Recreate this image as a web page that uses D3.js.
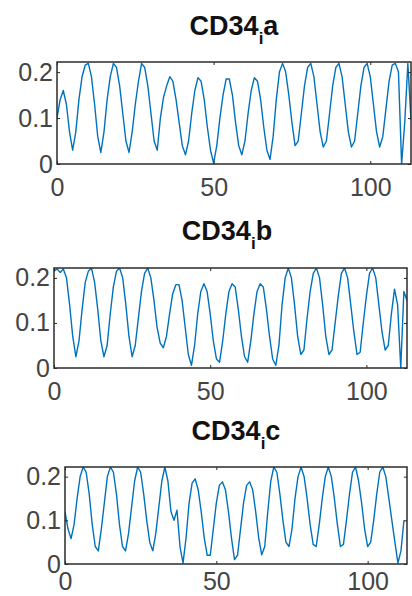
<!DOCTYPE html>
<html>
<head>
<meta charset="utf-8">
<script src="https://cdn.jsdelivr.net/npm/d3@7/dist/d3.min.js"></script>
<style>
  body { margin: 0; background: #fff; }
  svg { display: block; }
  .tick text { font-family: "Liberation Sans", Arial, sans-serif; font-size: 25px; fill: #444; }
  .title { font-family: "Liberation Sans", Arial, sans-serif; font-weight: bold; fill: #111; }
</style>
</head>
<body>
<div id="chart"></div>
<script>
// panel names (CD34 subscript i + letter)
var panelNames = ["a", "b", "c"];

// one sample per x unit
var seriesA = [0.10,0.14,0.16,0.13,0.07,0.03,0.07,0.14,0.19,0.215,
  0.219,0.19,0.13,0.06,0.025,0.07,0.14,0.19,0.219,0.21,
  0.17,0.11,0.05,0.025,0.07,0.13,0.18,0.219,0.21,0.17,
  0.11,0.05,0.03,0.10,0.145,0.17,0.19,0.18,0.14,0.09,
  0.04,0.02,0.05,0.11,0.16,0.188,0.18,0.14,0.08,0.03,
  0.002,0.04,0.10,0.15,0.185,0.185,0.15,0.09,0.04,0.02,
  0.05,0.11,0.16,0.188,0.18,0.14,0.08,0.03,0.01,0.06,
  0.14,0.20,0.219,0.20,0.15,0.09,0.04,0.05,0.11,0.17,
  0.21,0.219,0.19,0.13,0.07,0.037,0.05,0.11,0.17,0.21,
  0.219,0.19,0.13,0.07,0.037,0.05,0.11,0.17,0.21,0.219,
  0.19,0.13,0.07,0.037,0.06,0.12,0.18,0.215,0.219,0.20,
  0.0,0.09,0.219,0.095];

var seriesB = [0.215,0.22,0.212,0.22,0.20,0.14,0.07,0.025,0.06,0.13,
  0.19,0.215,0.222,0.19,0.13,0.06,0.025,0.05,0.12,0.18,
  0.215,0.222,0.20,0.14,0.07,0.025,0.05,0.11,0.17,0.21,
  0.222,0.20,0.15,0.09,0.055,0.045,0.07,0.12,0.165,0.185,
  0.185,0.15,0.09,0.03,0.006,0.05,0.12,0.17,0.187,0.17,
  0.12,0.06,0.02,0.013,0.06,0.12,0.17,0.187,0.18,0.13,
  0.07,0.025,0.013,0.06,0.12,0.17,0.187,0.18,0.13,0.07,
  0.02,0.006,0.05,0.14,0.20,0.222,0.20,0.14,0.07,0.03,
  0.04,0.11,0.17,0.21,0.222,0.20,0.14,0.07,0.03,0.04,
  0.10,0.16,0.21,0.222,0.20,0.14,0.08,0.03,0.035,0.10,
  0.16,0.21,0.222,0.20,0.14,0.08,0.04,0.05,0.12,0.175,
  0.14,0.0,0.17,0.15];

var seriesC = [0.12,0.08,0.058,0.09,0.15,0.20,0.222,0.21,0.16,0.09,
  0.04,0.03,0.08,0.14,0.20,0.222,0.21,0.16,0.09,0.04,
  0.03,0.07,0.13,0.19,0.222,0.21,0.16,0.10,0.05,0.03,
  0.07,0.13,0.19,0.222,0.19,0.12,0.10,0.123,0.04,0.002,
  0.06,0.14,0.185,0.195,0.17,0.12,0.06,0.02,0.02,0.08,
  0.14,0.18,0.188,0.17,0.12,0.06,0.01,0.02,0.08,0.14,
  0.18,0.188,0.17,0.12,0.06,0.021,0.04,0.12,0.19,0.222,
  0.21,0.16,0.10,0.05,0.04,0.08,0.15,0.20,0.222,0.20,
  0.15,0.09,0.045,0.04,0.09,0.15,0.20,0.222,0.20,0.15,
  0.09,0.04,0.045,0.10,0.16,0.21,0.222,0.19,0.14,0.08,
  0.04,0.05,0.10,0.16,0.21,0.222,0.20,0.15,0.10,0.05,
  0.002,0.03,0.10];

var xTicks = [0, 50, 100];
var yTicks = [0, 0.1, 0.2];
var xMax = 113, yMax = 0.222;

var allSeries = [seriesA, seriesB, seriesC];

// axes boxes in page pixels
var boxes = [
  {left: 57, right: 411, top: 62,  bottom: 164, tx: 234, ty: 35, pad: 14},
  {left: 54, right: 407, top: 268, bottom: 368, tx: 227, ty: 240, pad: 14},
  {left: 65, right: 407, top: 467, bottom: 564, tx: 236, ty: 440, pad: 8}
];

var svg = d3.select("#chart")
  .append("svg")
  .attr("width", 412)
  .attr("height", 596);

boxes.forEach(function(b, i) {
  var w = b.right - b.left, h = b.bottom - b.top;
  var g = svg.append("g").attr("transform", "translate(" + b.left + "," + b.top + ")");

  var x = d3.scaleLinear().domain([0, xMax]).range([0, w]);
  var y = d3.scaleLinear().domain([0, yMax]).range([h, 0]);

  g.append("clipPath").attr("id", "clip" + i)
    .append("rect").attr("width", w).attr("height", h);

  var line = d3.line()
    .x(function(d, j) { return x(j); })
    .y(function(d) { return y(d); });

  g.append("path")
    .datum(allSeries[i])
    .attr("clip-path", "url(#clip" + i + ")")
    .attr("fill", "none")
    .attr("stroke", "#0072BD")
    .attr("stroke-width", 1.4)
    .attr("stroke-linejoin", "round")
    .attr("d", line);

  // axes, inward ticks like matlab
  g.append("g").attr("transform", "translate(0," + h + ")")
    .call(d3.axisBottom(x).tickValues(xTicks).tickSize(-3).tickPadding(b.pad).tickFormat(d3.format("d")));
  g.append("g")
    .call(d3.axisLeft(y).tickValues(yTicks).tickSize(-3).tickPadding(4).tickFormat(function(d) { return d === 0 ? "0" : d3.format(".1f")(d); }));
  g.append("g").call(d3.axisTop(x).tickValues(xTicks).tickSize(-3).tickFormat(""));
  g.append("g").attr("transform", "translate(" + w + ",0)")
    .call(d3.axisRight(y).tickValues(yTicks).tickSize(-3).tickFormat(""));

  g.selectAll(".domain").remove();
  g.selectAll(".tick line").attr("stroke", "#262626");

  g.append("rect")
    .attr("width", w).attr("height", h)
    .attr("fill", "none")
    .attr("stroke", "#2b2b2b")
    .attr("stroke-width", 1.5);

  var t = svg.append("text")
    .attr("class", "title")
    .attr("x", b.tx).attr("y", b.ty)
    .attr("text-anchor", "middle")
    .style("font-size", "27px");
  t.append("tspan").text("CD34");
  t.append("tspan").attr("dy", 9).style("font-size", "17px").text("i");
  t.append("tspan").attr("dy", -9).text(panelNames[i]);
});
</script>
</body>
</html>
